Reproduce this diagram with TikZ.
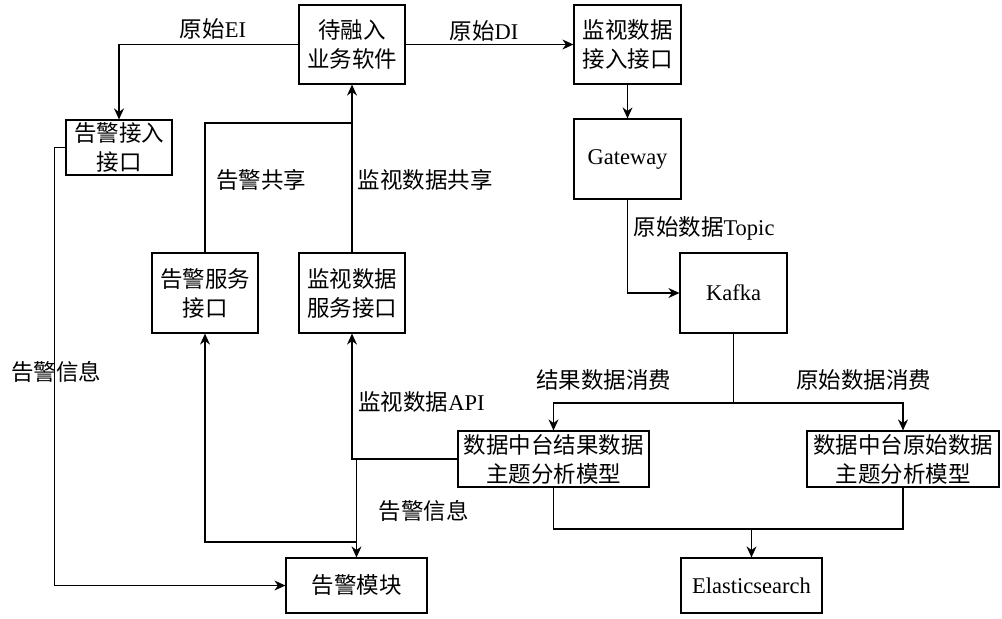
\documentclass[tikz,border=0pt]{standalone}
\usepackage{fontspec}
\setmainfont{Liberation Serif}
\newfontfamily\zh{Noto Sans CJK SC}
\usetikzlibrary{arrows.meta}

\begin{document}
\begin{tikzpicture}[x=0.5pt, y=-0.5pt, line width=0.6pt,
    font=\zh\fontsize{11.25}{14.5}\selectfont,
    box/.style={draw, align=center, inner sep=0pt},
    arr/.style={-{Stealth[length=5.5pt, width=5pt]}}]
    \useasboundingbox (0,0) rectangle (1002,618);

    % boxes
    \node[box, minimum width=53pt, minimum height=39.5pt] (sw) at (352,44.5) {待融入\\业务软件};
    \node[box, minimum width=53pt, minimum height=27.5pt] (ai) at (119,147.5) {告警接入\\接口};
    \node[box, minimum width=53pt, minimum height=40pt] (as) at (205,293) {告警服务\\接口};
    \node[box, minimum width=53pt, minimum height=40pt] (ms) at (352,293) {监视数据\\服务接口};
    \node[box, minimum width=53.5pt, minimum height=39.5pt] (mi) at (627.5,44.5) {监视数据\\接入接口};
    \node[box, minimum width=53.5pt, minimum height=40pt] (gw) at (627.5,159) {\rmfamily Gateway};
    \node[box, minimum width=53.5pt, minimum height=40pt] (kf) at (733.5,293) {\rmfamily Kafka};
    \node[box, minimum width=95.5pt, minimum height=28pt] (rm) at (553.5,459) {数据中台结果数据\\主题分析模型};
    \node[box, minimum width=96pt, minimum height=28pt] (om) at (903,459) {数据中台原始数据\\主题分析模型};
    \node[box, minimum width=70.5pt, minimum height=27.5pt] (am) at (356.5,585.5) {告警模块};
    \node[box, minimum width=70.5pt, minimum height=27.5pt] (es) at (751.5,585.5) {\rmfamily Elasticsearch};

    % junctions
    \coordinate (j1) at (352,123);
    \coordinate (kb) at (733.5,403);
    \coordinate (mg) at (751.5,529);
    \coordinate (j2) at (356.5,459);
    \coordinate (j3) at (356.5,542);

    % connectors
    \draw[arr] (sw.west) -| (ai.north);
    \draw[arr] (sw.east) -- (mi.west);
    \draw[arr] (mi.south) -- (gw.north);
    \draw[arr] (gw.south) |- (kf.west);
    \draw[arr] (kb) -| (rm.north);
    \draw[arr] (kf.south) -- (kb) -| (om.north);
    \draw (rm.south) |- (mg) -| (om.south);
    \draw[arr] (mg) -- (es.north);
    \draw[arr] (rm.west) -| (ms.south);
    \draw[arr] (j2) -- (am.north);
    \draw[arr] (j3) -| (as.south);
    \draw (as.north) |- (j1);
    \draw[arr] (ms.north) -- (sw.south);
    \draw[arr] (ai.west) -- ++(-11,0) |- (am.west);

    % labels
    \node (l1) at (213,29) {原始{\rmfamily EI}};
    \node (l2) at (484,31) {原始{\rmfamily DI}};
    \node (l3) at (704,228) {原始数据{\rmfamily Topic}};
    \node (l4) at (261,180) {告警共享};
    \node (l5) at (425,180) {监视数据共享};
    \node (l6) at (56,372) {告警信息};
    \node (l7) at (421.5,402) {监视数据{\rmfamily API}};
    \node (l8) at (423.5,511) {告警信息};
    \node (l9) at (603.5,380) {结果数据消费};
    \node (l10) at (863.5,380) {原始数据消费};
  \end{tikzpicture}
\end{document}
